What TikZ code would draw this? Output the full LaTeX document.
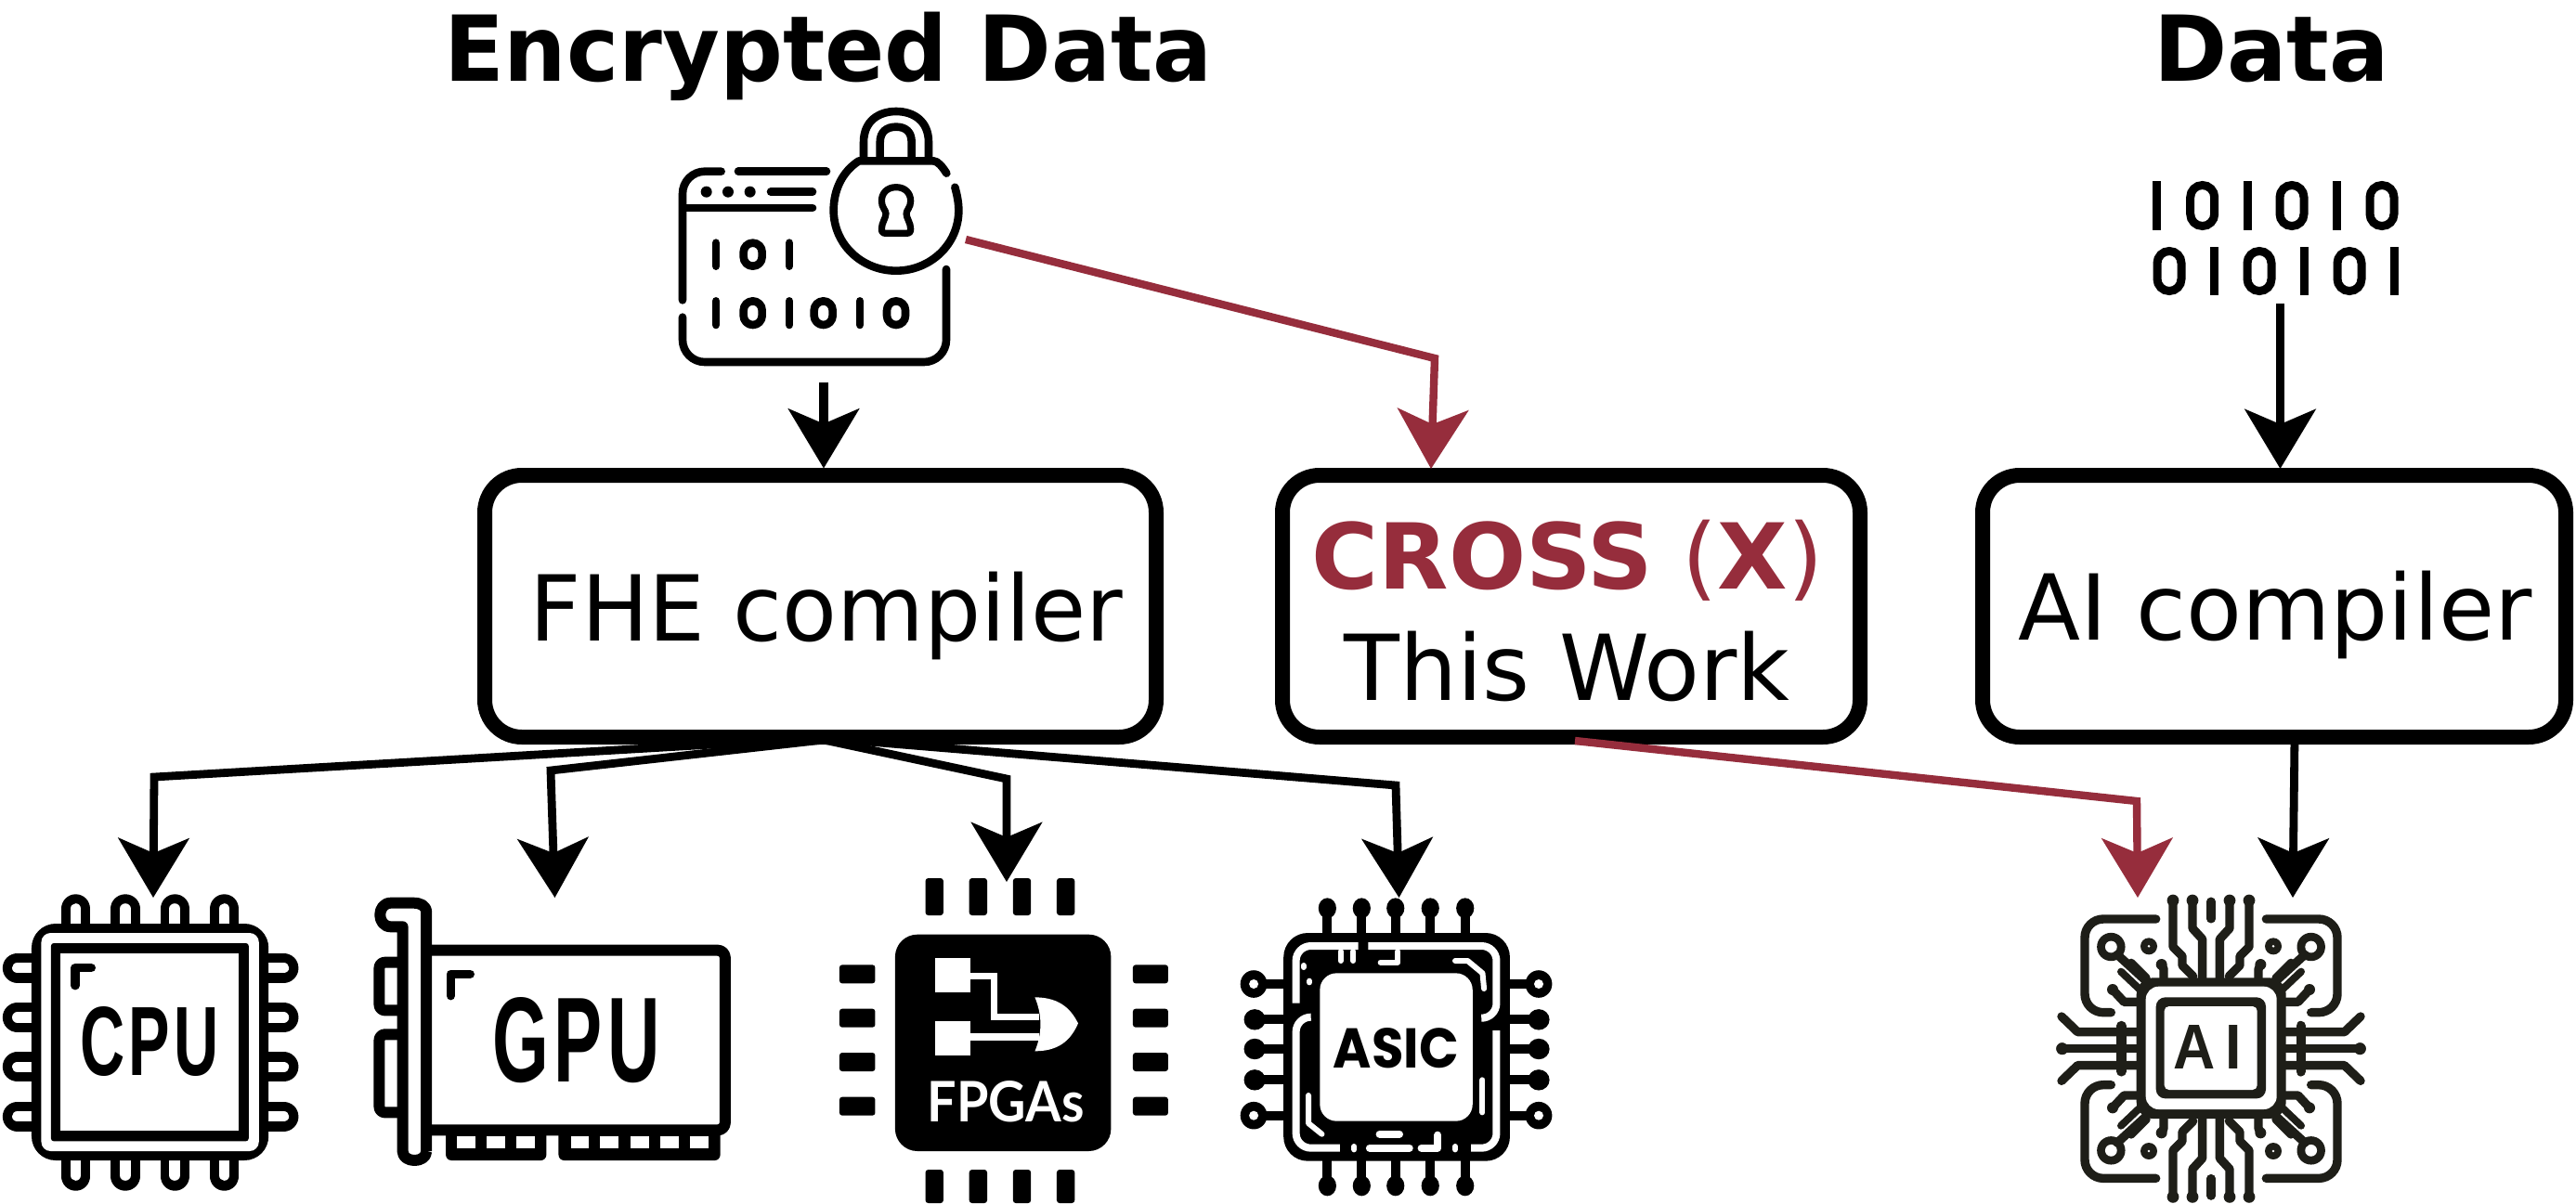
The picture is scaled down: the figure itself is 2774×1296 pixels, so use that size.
\documentclass[tikz,border=0pt]{standalone}
\usepackage{fontspec}
\usepackage{graphicx}
\usetikzlibrary{arrows.meta}
\setmainfont{DejaVu Sans}
\newfontfamily\iconbold{Liberation Sans}[BoldFont=* Bold,LetterSpace=7]
\newfontfamily\iconlato{Lato}
\newfontfamily\iconpop{Poppins}
\definecolor{redcol}{HTML}{962D3C}
\definecolor{aiblk}{HTML}{1E1E18}
\tikzset{
  boxnode/.style={draw=black,line width=8pt,rounded corners=20pt,inner sep=0pt,outer sep=0pt,minimum height=141pt},
  lbl/.style={inner sep=0pt,outer sep=0pt,anchor=base,font=\fontsize{49pt}{58pt}\selectfont},
  titlelbl/.style={lbl,font=\fontsize{49pt}{58pt}\selectfont\bfseries},
  iconbox/.style={inner sep=0pt,outer sep=0pt},
  icontext/.style={inner sep=0pt,outer sep=0pt,anchor=center},
  headtip/.style={-{Stealth[length=32pt,width=38pt,inset=8pt]}},
  conn/.style={headtip,line width=4.4pt,draw=black},
  connthick/.style={headtip,line width=4.8pt,draw=black},
  connred/.style={headtip,line width=4.2pt,draw=redcol},
  enc/.style={line width=4.3pt,line cap=round,line join=round},
  gpul/.style={line width=6pt,line join=round},
  aist/.style={line width=4.7pt,line cap=round,line join=round,draw=aiblk},
}
\newcommand{\aiq}{%
  \draw[aist] (575,345) -- (575,215) -- (543,180) -- (543,90);
  \fill[aiblk] (543,90) circle [radius=3.2pt];
  \draw[aist,line width=5pt] (603,95) -- (603,148);
  \draw[aist] (480,90) -- (480,240) -- (510,270) -- (510,300) -- (545,335);
  \fill[aiblk] (480,90) circle [radius=3.2pt];
  \draw[aist,rounded corners=10pt] (425,150) -- (195,150) -- (195,452) -- (280,452);
  \fill[aiblk] (280,240) circle [radius=7.6pt];
  \fill[white] (280,240) circle [radius=3.2pt];
  \draw[aist] (300,265) -- (395,352);
  \draw[aist,line width=4pt] (345,290) -- (395,340);
  \draw[aist,line width=4pt] (312,320) -- (370,375);
  \fill[aiblk] (402,238) circle [radius=4.5pt];
  \fill[white] (402,238) circle [radius=0.7pt];
  \draw[aist] (443,297) -- (450,312) -- (450,345);
  \fill[aiblk] (443,297) circle [radius=3pt];
  \draw[aist] (285,378) -- (322,418) -- (365,418);
  \fill[aiblk] (285,378) circle [radius=3pt];
  \draw[aist] (120,465) -- (172,515) -- (365,515);
  \draw[aist] (120,569) -- (365,569);
  \fill[aiblk] (122,569) circle [radius=3.2pt];
  \draw[aist,line width=5.2pt] (313,495) -- (313,569);
}
\begin{document}
\begin{tikzpicture}[x=0.5pt,y=-0.5pt]
\useasboundingbox (0,0) rectangle (2774,1296);
\fill[white] (0,0) rectangle (2774,1296);

% invisible icon anchors
\node[iconbox,minimum width=152.5pt,minimum height=139pt] (encicon) at (882.5,256) {};
\node[iconbox,minimum width=132.5pt,minimum height=61.5pt] (bits) at (2450.5,256.5) {};
\node[iconbox,minimum width=160pt,minimum height=160pt] (cpu) at (162,1123) {};
\node[iconbox,minimum width=192pt,minimum height=144.5pt] (gpu) at (594,1110.5) {};
\node[iconbox,minimum width=177pt,minimum height=175pt] (fpga) at (1081,1121) {};
\node[iconbox,minimum width=167.75pt,minimum height=160.5pt] (asic) at (1503.75,1127.5) {};
\node[iconbox,minimum width=167pt,minimum height=165.5pt] (aichip) at (2381,1129.5) {};

% titles
\node[titlelbl] (t1) at (892,87) {\scalebox{.968}[1]{Encrypted Data}};
\node[titlelbl] (t2) at (2446,87) {\scalebox{.975}[1]{Data}};

% boxes
\node[boxnode,minimum width=361.5pt] (fhe) at (883.5,653) {};
\node[boxnode,minimum width=311pt] (cross) at (1692,653) {};
\node[boxnode,minimum width=314pt] (aic) at (2449,653) {};
\node[lbl] (fhet) at (890,690) {\scalebox{.983}[1]{FHE compiler}};
\node[lbl] (aict) at (2450,689.5) {AI compiler};
\node[lbl,text=redcol] (crosst) at (1688,634) {\textbf{CROSS} (\textbf{X})};
\node[lbl] (workt) at (1687.5,754) {This Work};

% connectors
\draw[connthick] ([xshift=2.25pt,yshift=-8.5pt]encicon.south) -- ([xshift=1.75pt,yshift=3.75pt]fhe.north);
\coordinate (b1) at (1545,386);
\draw[connred] ([xshift=2.5pt,yshift=-1pt]encicon.east) -- (b1) -- ([xshift=-75.5pt,yshift=3.5pt]cross.north);
\draw[connthick] ([xshift=2.5pt,yshift=-4.5pt]bits.south) -- ([xshift=3.25pt,yshift=3.5pt]aic.north);
\coordinate (b2) at (166,837);
\coordinate (b3) at (593,830);
\coordinate (b4) at (1084,839);
\coordinate (b5) at (1503,846);
\coordinate (b6) at (2301,863);
\draw[conn] ([xshift=1.75pt,yshift=-0.5pt]fhe.south) -- (b2) -- ([xshift=1.5pt,yshift=-2pt]cpu.north);
\draw[conn] ([xshift=1.75pt,yshift=-1.5pt]fhe.south) -- (b3) -- ([xshift=1.75pt,yshift=-0.5pt]gpu.north);
\draw[conn] ([xshift=1.75pt,yshift=-1.5pt]fhe.south) -- (b4) -- ([xshift=1.5pt,yshift=-2pt]fpga.north);
\draw[conn] ([xshift=1.75pt,yshift=-0.5pt]fhe.south) -- (b5) -- ([xshift=1.4pt]asic.north);
\draw[connred] ([xshift=2pt,yshift=-2pt]cross.south) -- (b6) -- ([xshift=-39.5pt,yshift=-1.5pt]aichip.north);
\draw[conn] ([xshift=11pt]aic.south) -- ([xshift=44pt,yshift=-1.5pt]aichip.north);

% encrypted data icon
\begin{scope}[shift={(680,90)},x=0.16667pt,y=-0.16667pt]
  \draw[enc,rounded corners=12pt] (290,284) -- (165,284) -- (165,700);
  \draw[enc,rounded corners=12pt] (165,755) -- (165,900) -- (1017,900) -- (1017,600);
  \draw[enc] (345,284) -- (630,284);
  \foreach \xx in {242,312,383} \fill (\xx,350) circle [radius=3pt];
  \draw[enc] (450,350) -- (585,350);
  \draw[enc] (170,402) -- (585,402);
  \foreach \xx in {273,510} \draw[enc] (\xx,515) -- (\xx,590);
  \draw[enc,rounded corners=5pt] (362,515) rectangle (422,590);
  \foreach \xx in {273,510,738} \draw[enc] (\xx,703) -- (\xx,780);
  \foreach \xx in {392,620,855} \draw[enc,rounded corners=5pt] (\xx-30,703) rectangle (\xx+30,780);
  % lock
  \draw[enc] (1018,290) .. controls (1005,270) and (990,250) .. (975,250) -- (735,250)
     .. controls (680,285) and (653,345) .. (653,410)
     .. controls (653,520) and (745,605) .. (855,605)
     .. controls (965,605) and (1057,520) .. (1057,410)
     .. controls (1057,385) and (1052,360) .. (1045,335);
  \draw[enc] (750,245) -- (750,190) .. controls (750,120) and (800,90) .. (855,90) .. controls (910,90) and (960,120) .. (960,190) -- (960,245);
  \draw[enc] (803,245) -- (803,190) .. controls (803,155) and (825,140) .. (855,140) .. controls (885,140) and (905,155) .. (905,190) -- (905,245);
  \draw[enc,line width=3.6pt] (855,335) .. controls (825,335) and (808,355) .. (808,380)
     .. controls (808,400) and (822,410) .. (822,420) .. controls (822,435) and (808,450) .. (808,470)
     .. controls (808,480) and (812,484) .. (822,484) -- (888,484)
     .. controls (898,484) and (902,480) .. (902,470) .. controls (902,450) and (888,435) .. (888,420)
     .. controls (888,410) and (902,400) .. (902,380) .. controls (902,355) and (885,335) .. (855,335) -- cycle;
\end{scope}

% binary data icon
\foreach \xx in {2322.7,2420,2516.7} \fill (\xx-4.5,195) rectangle (\xx+4.5,248);
\foreach \xx in {2371.7,2468,2565} \draw[line width=4.5pt,rounded corners=6.5pt] (\xx-13,199.5) rectangle (\xx+13,243.5);
\foreach \xx in {2384.7,2481.7,2578} \fill (\xx-4.5,266) rectangle (\xx+4.5,318);
\foreach \xx in {2336,2433,2530} \draw[line width=4.5pt,rounded corners=6.5pt] (\xx-13,270.5) rectangle (\xx+13,313.5);

% CPU icon
\begin{scope}[shift={(0,920)},x=0.2615pt,y=-0.16667pt]
  \foreach \xx in {156,258,360,462} {
    \draw[line width=15.7pt,line cap=round] (\xx,177) -- (\xx,250);
    \draw[white,line width=5.8pt,line cap=round] (\xx,177) -- (\xx,225);
    \draw[line width=15.7pt,line cap=round] (\xx,1041) -- (\xx,970);
    \draw[white,line width=5.8pt,line cap=round] (\xx,1038) -- (\xx,990);
  }
  \foreach \yy in {368,528,688,848} {
    \draw[line width=16pt,line cap=round] (36,\yy) -- (80,\yy);
    \draw[white,line width=5.8pt,line cap=round] (36,\yy) -- (65,\yy);
    \draw[line width=16pt,line cap=round] (584,\yy) -- (540,\yy);
    \draw[white,line width=5.8pt,line cap=round] (584,\yy) -- (553,\yy);
  }
  \fill[rounded corners=13pt] (65,225) rectangle (553,990);
  \fill[white,rounded corners=5pt] (85,255) rectangle (533,960);
  \fill[rounded corners=1.5pt] (105,288) rectangle (512,928);
  \fill[white] (125,320) rectangle (492,895);
  \draw[line width=4.7pt,line cap=round,line join=round] (155,425) -- (155,368) -- (188,368);
  \node[icontext] (cput) at (308,606) {\resizebox{75pt}{37pt}{\iconbold\bfseries CPU}};
\end{scope}

% GPU icon
\begin{scope}[shift={(0,920)},x=0.2615pt,y=-0.16667pt]
  \draw[gpul] (878,960) -- (878,190) .. controls (878,165) and (865,158) .. (850,158) -- (805,158)
     .. controls (775,158) and (775,235) .. (805,235) -- (829,235) -- (829,960)
     .. controls (829,1000) and (878,1000) .. (878,960);
  \draw[gpul,rounded corners=4pt] (880,311) -- (1493,311) -- (1493,892) -- (880,892);
  \draw[gpul,rounded corners=3pt] (820,350) -- (781,350) -- (781,505) -- (820,505);
  \draw[gpul,rounded corners=3pt] (820,583) -- (781,583) -- (781,835) -- (820,835);
  \fill[rounded corners=3pt] (918,880) rectangle (1125,990);
  \fill[rounded corners=3pt] (1150,880) rectangle (1483,990);
  \foreach \xx in {940,1002,1063,1175,1236,1298,1360,1421} \fill[white] (\xx,912) rectangle (\xx+38,950);
  \draw[line width=4.7pt,line cap=round,line join=round] (928,458) -- (928,388) -- (968,388);
  \node[icontext] (gput) at (1187,601) {\resizebox{90pt}{45.5pt}{\iconbold\bfseries GPU}};
\end{scope}

% FPGA icon
\begin{scope}[shift={(860,920)},x=0.2678pt,y=-0.16667pt]
  \foreach \xx in {255,343,431,519} {
    \fill[rounded corners=1.5pt] (\xx,78) rectangle (\xx+36,198);
    \fill[rounded corners=1.5pt] (\xx,1020) rectangle (\xx+36,1128);
  }
  \foreach \yy in {358,500,642,785} {
    \fill[rounded corners=1.5pt] (82,\yy) rectangle (154,\yy+60);
    \fill[rounded corners=1.5pt] (672,\yy) rectangle (743,\yy+60);
  }
  \fill[rounded corners=12pt] (194,260) rectangle (628,960);
  \fill[white] (275,337) rectangle (345,447);
  \fill[white] (275,540) rectangle (345,650);
  \draw[white,line width=3.6pt] (345,394) -- (393,394) -- (393,527) -- (484,527);
  \draw[white,line width=3.6pt] (345,591) -- (484,591);
  \fill[white] (475,463) .. controls (530,463) and (550,510) .. (562,547)
     .. controls (550,590) and (530,637) .. (475,637)
     .. controls (490,580) and (490,520) .. (475,463) -- cycle;
  \node[icontext,text=white] (fpgat) at (417,801) {\resizebox{84.5pt}{22pt}{\iconlato\bfseries FPGAs}};
\end{scope}

% ASIC icon
\begin{scope}[shift={(860,920)},x=0.2678pt,y=-0.16667pt]
  \foreach \xx in {1063,1132,1200,1270,1340} {
    \draw[line width=5pt] (\xx,175) -- (\xx,260);
    \fill (\xx,175) ellipse [x radius=4.8pt,y radius=5.5pt];
    \draw[line width=5pt] (\xx,990) -- (\xx,1072);
    \fill (\xx,1072) ellipse [x radius=4.8pt,y radius=5.5pt];
  }
  \foreach \yy in {535,630,730} {
    \draw[line width=5pt] (915,\yy) -- (980,\yy);
    \fill (917,\yy) ellipse [x radius=5.8pt,y radius=5.6pt];
    \draw[line width=5pt] (1425,\yy) -- (1490,\yy);
    \fill (1488,\yy) ellipse [x radius=5.8pt,y radius=5.6pt];
  }
  \foreach \yy in {420,845} {
    \draw[line width=5pt] (915,\yy) -- (980,\yy);
    \fill (915,\yy) ellipse [x radius=7.2pt,y radius=7.4pt];
    \fill[white] (915,\yy) ellipse [x radius=2.5pt,y radius=2.5pt];
    \draw[line width=5pt] (1425,\yy) -- (1490,\yy);
    \fill (1488,\yy) ellipse [x radius=7.2pt,y radius=7.4pt];
    \fill[white] (1488,\yy) ellipse [x radius=2.5pt,y radius=2.5pt];
  }
  \fill[rounded corners=13pt] (975,255) rectangle (1430,992);
  \begin{scope}[white,line width=4pt,rounded corners=8pt]
    \draw (1000,482) -- (1000,297) -- (1125,297);
    \draw (1145,297) -- (1403,297) -- (1403,530) -- (1378,530);
    \draw (1403,570) -- (1403,950) -- (1352,950);
    \draw (1030,527) -- (1000,527) -- (1000,950) -- (1088,950);
  \end{scope}
  \begin{scope}[white,line width=3pt,line cap=round,line join=round]
    \draw[line width=4pt] (1148,950) -- (1228,950);
    \draw[line width=4pt] (1252,950) -- (1285,950) -- (1285,908);
    \draw (1117,945) -- (1117,955);
    \draw (1320,945) -- (1320,955);
    \draw (1090,315) -- (1090,345);
    \draw (1115,315) -- (1115,345);
    \draw (1170,350) -- (1205,350) -- (1205,315);
    \draw (1320,345) -- (1345,345) -- (1375,385) -- (1378,435);
    \draw (1025,780) -- (1025,870) -- (1052,905);
    \draw[line width=4pt] (1168,905) -- (1208,905);
    \draw (1375,730) -- (1375,835);
    \draw (1015,360) -- (1015,366);
    \draw (1027,410) -- (1027,415);
  \end{scope}
  \fill[white,rounded corners=9pt] (1048,385) rectangle (1355,863);
  \node[icontext] (asict) at (1201,629) {\resizebox{67.5pt}{21.5pt}{\iconpop\bfseries ASIC}};
\end{scope}

% AI icon
\begin{scope}[shift={(2180,940)},x=0.16667pt,y=-0.16667pt]
  \aiq
  \begin{scope}[cm={-1,0,0,1,(1206,0)}] \aiq \end{scope}
  \begin{scope}[cm={1,0,0,-1,(0,1138)}] \aiq \end{scope}
  \begin{scope}[cm={-1,0,0,-1,(1206,1138)}] \aiq \end{scope}
  \fill[aiblk,rounded corners=9pt] (362,340) rectangle (845,795);
  \fill[white,rounded corners=7pt] (392,368) rectangle (815,765);
  \fill[aiblk,rounded corners=5pt] (425,403) rectangle (780,730);
  \fill[white,rounded corners=2.5pt] (452,432) rectangle (752,702);
  \node[icontext,text=aiblk] (ait) at (591,565) {\resizebox{36.5pt}{23.5pt}{\iconbold\bfseries A\,I}};
\end{scope}
\end{tikzpicture}
\end{document}
